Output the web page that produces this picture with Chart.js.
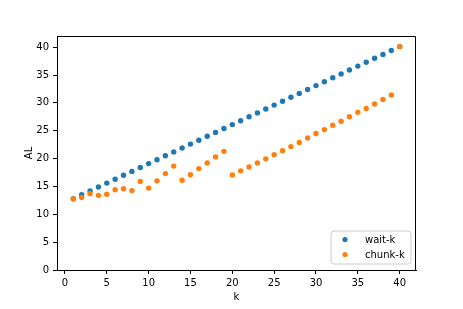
<!DOCTYPE html>
<html>
<head>
<meta charset="utf-8">
<script src="https://cdn.jsdelivr.net/npm/chart.js@4"></script>
<style>
  body { margin: 0; background: #fff; }
  canvas { display: block; }
</style>
</head>
<body>
<canvas id="chart" width="463" height="309"></canvas>
<script>
// Data
var kValues = [1, 2, 3, 4, 5, 6, 7, 8, 9, 10, 11, 12, 13, 14, 15, 16, 17, 18, 19, 20,
               21, 22, 23, 24, 25, 26, 27, 28, 29, 30, 31, 32, 33, 34, 35, 36, 37, 38, 39, 40];
var waitK = [12.8, 13.5, 14.2, 14.9, 15.6, 16.3, 17.0, 17.7, 18.4, 19.1,
             19.8, 20.5, 21.2, 21.9, 22.6, 23.3, 24.0, 24.7, 25.4, 26.1,
             26.8, 27.5, 28.2, 28.9, 29.6, 30.3, 31.0, 31.7, 32.4, 33.1,
             33.8, 34.5, 35.2, 35.9, 36.6, 37.3, 38.0, 38.7, 39.4, 40.1];
var chunkK = [12.8, 13.0, 13.7, 13.4, 13.6, 14.4, 14.6, 14.25, 15.9, 14.7,
              16.0, 17.3, 18.65, 16.1, 17.1, 18.2, 19.2, 20.3, 21.3, 17.05,
              17.8, 18.5, 19.2, 19.95, 20.7, 21.4, 22.15, 22.9, 23.7, 24.5,
              25.2, 26.0, 26.7, 27.5, 28.3, 29.0, 29.8, 30.6, 31.4, 40.1];
var xTicks = [0, 5, 10, 15, 20, 25, 30, 35, 40];
var yTicks = [0, 5, 10, 15, 20, 25, 30, 35, 40];
var seriesNames = ['wait-k', 'chunk-k'];
var seriesColors = ['#1f77b4', '#ff7f0e'];

var FONT = 'DejaVu Sans';

function toPoints(values) {
    return values.map(function (v, i) { return { x: kValues[i], y: v }; });
}

// top and right spines
var frame = {
    id: 'frame',
    afterDraw: function (chart) {
        var a = chart.chartArea, ctx = chart.ctx;
        ctx.save();
        ctx.strokeStyle = '#000';
        ctx.lineWidth = 1;
        ctx.beginPath();
        ctx.moveTo(a.left, a.top + 0.5);
        ctx.lineTo(a.right - 0.5, a.top + 0.5);
        ctx.lineTo(a.right - 0.5, a.bottom);
        ctx.stroke();
        ctx.restore();
    }
};

// legend box in the lower right corner of the plot
var innerLegend = {
    id: 'innerLegend',
    afterDraw: function (chart) {
        var ctx = chart.ctx;
        var x = 331, y = 231, w = 80, h = 33, r = 3;
        ctx.save();
        ctx.beginPath();
        ctx.moveTo(x + r, y);
        ctx.arcTo(x + w, y, x + w, y + h, r);
        ctx.arcTo(x + w, y + h, x, y + h, r);
        ctx.arcTo(x, y + h, x, y, r);
        ctx.arcTo(x, y, x + w, y, r);
        ctx.closePath();
        ctx.fillStyle = 'rgba(255,255,255,0.8)';
        ctx.fill();
        ctx.strokeStyle = '#cccccc';
        ctx.lineWidth = 1;
        ctx.stroke();

        ctx.font = '10px "' + FONT + '"';
        ctx.textBaseline = 'middle';
        ctx.fillStyle = '#000';
        seriesNames.forEach(function (name, i) {
            var cy = y + 8.5 + i * 15;
            ctx.beginPath();
            ctx.arc(x + 14, cy, 2.6, 0, Math.PI * 2);
            ctx.fillStyle = seriesColors[i];
            ctx.fill();
            ctx.fillStyle = '#000';
            ctx.fillText(name, x + 34, cy + 0.5);
        });
        ctx.restore();
    }
};

var ctx = document.getElementById('chart').getContext('2d');
var chart = new Chart(ctx, {
    type: 'scatter',
    data: {
        datasets: [{
            label: seriesNames[0],
            data: toPoints(waitK),
            backgroundColor: seriesColors[0],
            borderWidth: 0,
            pointRadius: 2.7,
            order: 2
        }, {
            label: seriesNames[1],
            data: toPoints(chunkK),
            backgroundColor: seriesColors[1],
            borderWidth: 0,
            pointRadius: 2.7,
            order: 1
        }]
    },
    options: {
        responsive: false,
        animation: false,
        layout: { padding: { left: 0, right: 47, top: 36, bottom: 0 } },
        plugins: {
            legend: { display: false },
            tooltip: { enabled: false }
        },
        scales: {
            x: {
                type: 'linear',
                min: -0.95,
                max: 41.95,
                afterBuildTicks: function (scale) {
                    scale.ticks = xTicks.map(function (v) { return { value: v }; });
                },
                afterFit: function (scale) { scale.height = 39; },
                grid: { drawOnChartArea: false, drawTicks: true, tickLength: 4, color: '#000' },
                border: { display: true, color: '#000', width: 1 },
                ticks: { color: '#000', padding: 3, maxRotation: 0, font: { family: FONT, size: 10 } },
                title: { display: true, text: 'k', color: '#000', padding: { top: 0, bottom: 6 }, font: { family: FONT, size: 10 } }
            },
            y: {
                type: 'linear',
                min: 0,
                max: 42,
                afterBuildTicks: function (scale) {
                    scale.ticks = yTicks.map(function (v) { return { value: v }; });
                },
                afterFit: function (scale) { scale.width = 57; },
                grid: { drawOnChartArea: false, drawTicks: true, tickLength: 4, color: '#000' },
                border: { display: true, color: '#000', width: 1 },
                ticks: { color: '#000', padding: 4, font: { family: FONT, size: 10 } },
                title: { display: true, text: 'AL', color: '#000', padding: { top: 23, bottom: 0 }, font: { family: FONT, size: 10 } }
            }
        }
    },
    plugins: [frame, innerLegend]
});
</script>
</body>
</html>
